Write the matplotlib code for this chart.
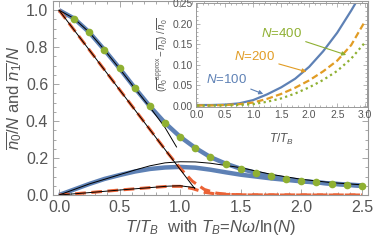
import numpy as np
import matplotlib.pyplot as plt
from matplotlib.ticker import MultipleLocator

plt.rcParams['font.family'] = ['Liberation Sans', 'DejaVu Sans']
plt.rcParams['mathtext.fontset'] = 'custom'
plt.rcParams['mathtext.rm'] = 'Liberation Sans'
plt.rcParams['mathtext.it'] = 'Liberation Sans:italic'

# main panel data
t_n0 = [0.0, 0.125, 0.25, 0.375, 0.5, 0.625, 0.75, 0.875, 1.0, 1.125, 1.25, 1.375,
        1.5, 1.625, 1.75, 1.875, 2.0, 2.125, 2.25, 2.375, 2.5]
n0_blue = [1.0, 0.955, 0.88, 0.785, 0.685, 0.58, 0.48, 0.39, 0.315, 0.255, 0.205, 0.17,
           0.142, 0.12, 0.102, 0.088, 0.077, 0.068, 0.061, 0.055, 0.049]
dots_t = t_n0[1:]
dots_v = n0_blue[1:]

t_n1 = [0.0, 0.125, 0.25, 0.375, 0.5, 0.625, 0.75, 0.875, 1.0, 1.125, 1.25, 1.375,
        1.5, 1.75, 2.0, 2.25, 2.5]
n1_blue = [0.0, 0.03, 0.06, 0.087, 0.108, 0.127, 0.141, 0.149, 0.152, 0.148, 0.137, 0.123,
           0.11, 0.09, 0.074, 0.062, 0.052]

t_red0 = [0.0, 0.25, 0.5, 0.75, 0.9, 1.0, 1.1, 1.2, 1.3, 1.4, 1.6, 2.5]
n0_red = [1.0, 0.785, 0.57, 0.355, 0.225, 0.145, 0.075, 0.03, 0.01, 0.003, 0.0, 0.0]
t_red1 = [0.0, 0.25, 0.5, 0.75, 0.9, 1.0, 1.1, 1.2, 1.3, 1.5, 2.5]
n1_red = [0.0, 0.013, 0.027, 0.04, 0.047, 0.047, 0.035, 0.015, 0.005, 0.001, 0.0]

# thin black approximations
t_ap0 = [0.0, 0.125, 0.25, 0.375, 0.5, 0.625, 0.75, 0.875, 0.97]
ap0 = [1.0, 0.955, 0.88, 0.785, 0.683, 0.578, 0.475, 0.365, 0.26]
t_aplin = [0.0, 1.12]
aplin = [1.0, 0.035]
t_ap1 = [0.0, 0.25, 0.5, 0.625, 0.75, 0.875, 1.0, 1.125, 1.25, 1.5, 1.75, 2.0, 2.25, 2.5]
ap1 = [0.0, 0.06, 0.11, 0.135, 0.158, 0.174, 0.18, 0.179, 0.172, 0.148, 0.112, 0.085, 0.067, 0.055]
t_ap1r = [0.0, 0.25, 0.5, 0.75, 0.9, 1.0, 1.12]
ap1r = [0.0, 0.013, 0.027, 0.04, 0.048, 0.05, 0.04]

# inset data
t_in = [0.0, 0.25, 0.5, 0.75, 1.0, 1.25, 1.5, 1.75, 2.0, 2.25, 2.5, 2.75, 3.0]
rel100 = [0.002, 0.002, 0.003, 0.006, 0.014, 0.028, 0.045, 0.066, 0.095, 0.133, 0.178, 0.232, 0.29]
rel200 = [0.001, 0.001, 0.002, 0.004, 0.008, 0.017, 0.029, 0.044, 0.062, 0.084, 0.11, 0.148, 0.207]
rel400 = [0.0005, 0.0005, 0.001, 0.002, 0.004, 0.01, 0.018, 0.03, 0.045, 0.063, 0.085, 0.115, 0.155]

blue = '#5E81B5'
red = '#EB6235'
green = '#8FB032'
orange = '#E19C24'
gray = '#555555'
frame = '#999999'

fig = plt.figure(figsize=(3.74, 2.45), dpi=100)
ax = fig.add_axes([0.1417, 0.204, 0.842, 0.792])

ax.plot(t_n0, n0_blue, color=blue, lw=3.2, solid_capstyle='butt')
ax.plot(t_n1, n1_blue, color=blue, lw=3.2, solid_capstyle='butt')
ax.plot(t_red0, n0_red, color=red, lw=2.2, dashes=(3.5, 1.8))
ax.plot(t_red1, n1_red, color=red, lw=2.2, dashes=(3.5, 1.8))
ax.plot(t_ap0, ap0, color='black', lw=0.7)
ax.plot(t_aplin, aplin, color='black', lw=0.7)
ax.plot(t_ap1, ap1, color='black', lw=0.7)
ax.plot(t_ap1r, ap1r, color='black', lw=0.7)
ax.plot(dots_t, dots_v, 'o', color=green, ms=5.5, mec='none')

ax.set_xlim(-0.05, 2.55)
ax.set_ylim(0.0, 1.05)
ax.xaxis.set_major_locator(MultipleLocator(0.5))
ax.xaxis.set_minor_locator(MultipleLocator(0.1))
ax.yaxis.set_major_locator(MultipleLocator(0.2))
ax.yaxis.set_minor_locator(MultipleLocator(0.05))
ax.tick_params(which='both', direction='in', top=True, right=True, color=frame,
               labelsize=11.5, labelcolor=gray, width=0.6)
ax.tick_params(which='major', length=4)
ax.tick_params(which='minor', length=2)
for s in ax.spines.values():
    s.set_color(frame)
    s.set_linewidth(0.8)
ax.set_xlabel(r'$T/T_B$  with $T_B$=$N\omega$/ln($N$)', fontsize=12, color=gray, labelpad=2)
ax.set_ylabel(r'$\overline{n_0}/N$ and $\overline{n_1}/N$', fontsize=12, color=gray, labelpad=1)

# inset
ax_in = fig.add_axes([0.524, 0.563, 0.457, 0.424])
ax_in.set_facecolor('white')
ax_in.plot(t_in, rel100, color=blue, lw=1.6)
ax_in.plot(t_in, rel200, color=orange, lw=1.6, dashes=(3, 1.5))
ax_in.plot(t_in, rel400, color=green, lw=1.6, dashes=(1, 1.5))
ax_in.set_xlim(-0.02, 3.03)
ax_in.set_ylim(-0.003, 0.25)
ax_in.xaxis.set_major_locator(MultipleLocator(0.5))
ax_in.xaxis.set_minor_locator(MultipleLocator(0.1))
ax_in.yaxis.set_major_locator(MultipleLocator(0.05))
ax_in.yaxis.set_minor_locator(MultipleLocator(0.01))
ax_in.tick_params(which='both', direction='in', top=True, right=True, color=frame,
                  labelsize=7.5, labelcolor=gray, width=0.5, pad=2)
ax_in.tick_params(which='major', length=3)
ax_in.tick_params(which='minor', length=1.5)
for s in ax_in.spines.values():
    s.set_color(frame)
    s.set_linewidth(0.7)
ax_in.set_xlabel(r'$T/T_B$', fontsize=8.5, color=gray, labelpad=9)
ax_in.set_ylabel(r'$(\overline{n_0}^{\rm approx}-\overline{n_0})\;/\;\overline{n_0}$',
                 fontsize=7, color=gray, labelpad=2)

ax_in.annotate(r'$N$=100', xy=(1.18, 0.029), xytext=(0.52, 0.064), color=blue,
               fontsize=9.5, ha='center', va='center',
               arrowprops=dict(arrowstyle='-|>', color=blue, lw=0.8, shrinkA=1, shrinkB=0,
                               mutation_scale=6))
ax_in.annotate(r'$N$=200', xy=(1.95, 0.083), xytext=(1.02, 0.119), color=orange,
               fontsize=9.5, ha='center', va='center',
               arrowprops=dict(arrowstyle='-|>', color=orange, lw=0.8, shrinkA=1, shrinkB=0,
                               mutation_scale=6))
ax_in.annotate(r'$N$=400', xy=(2.66, 0.124), xytext=(1.5, 0.176), color=green,
               fontsize=9.5, ha='center', va='center',
               arrowprops=dict(arrowstyle='-|>', color=green, lw=0.8, shrinkA=1, shrinkB=0,
                               mutation_scale=6))

fig.savefig('out.png', dpi=100)
